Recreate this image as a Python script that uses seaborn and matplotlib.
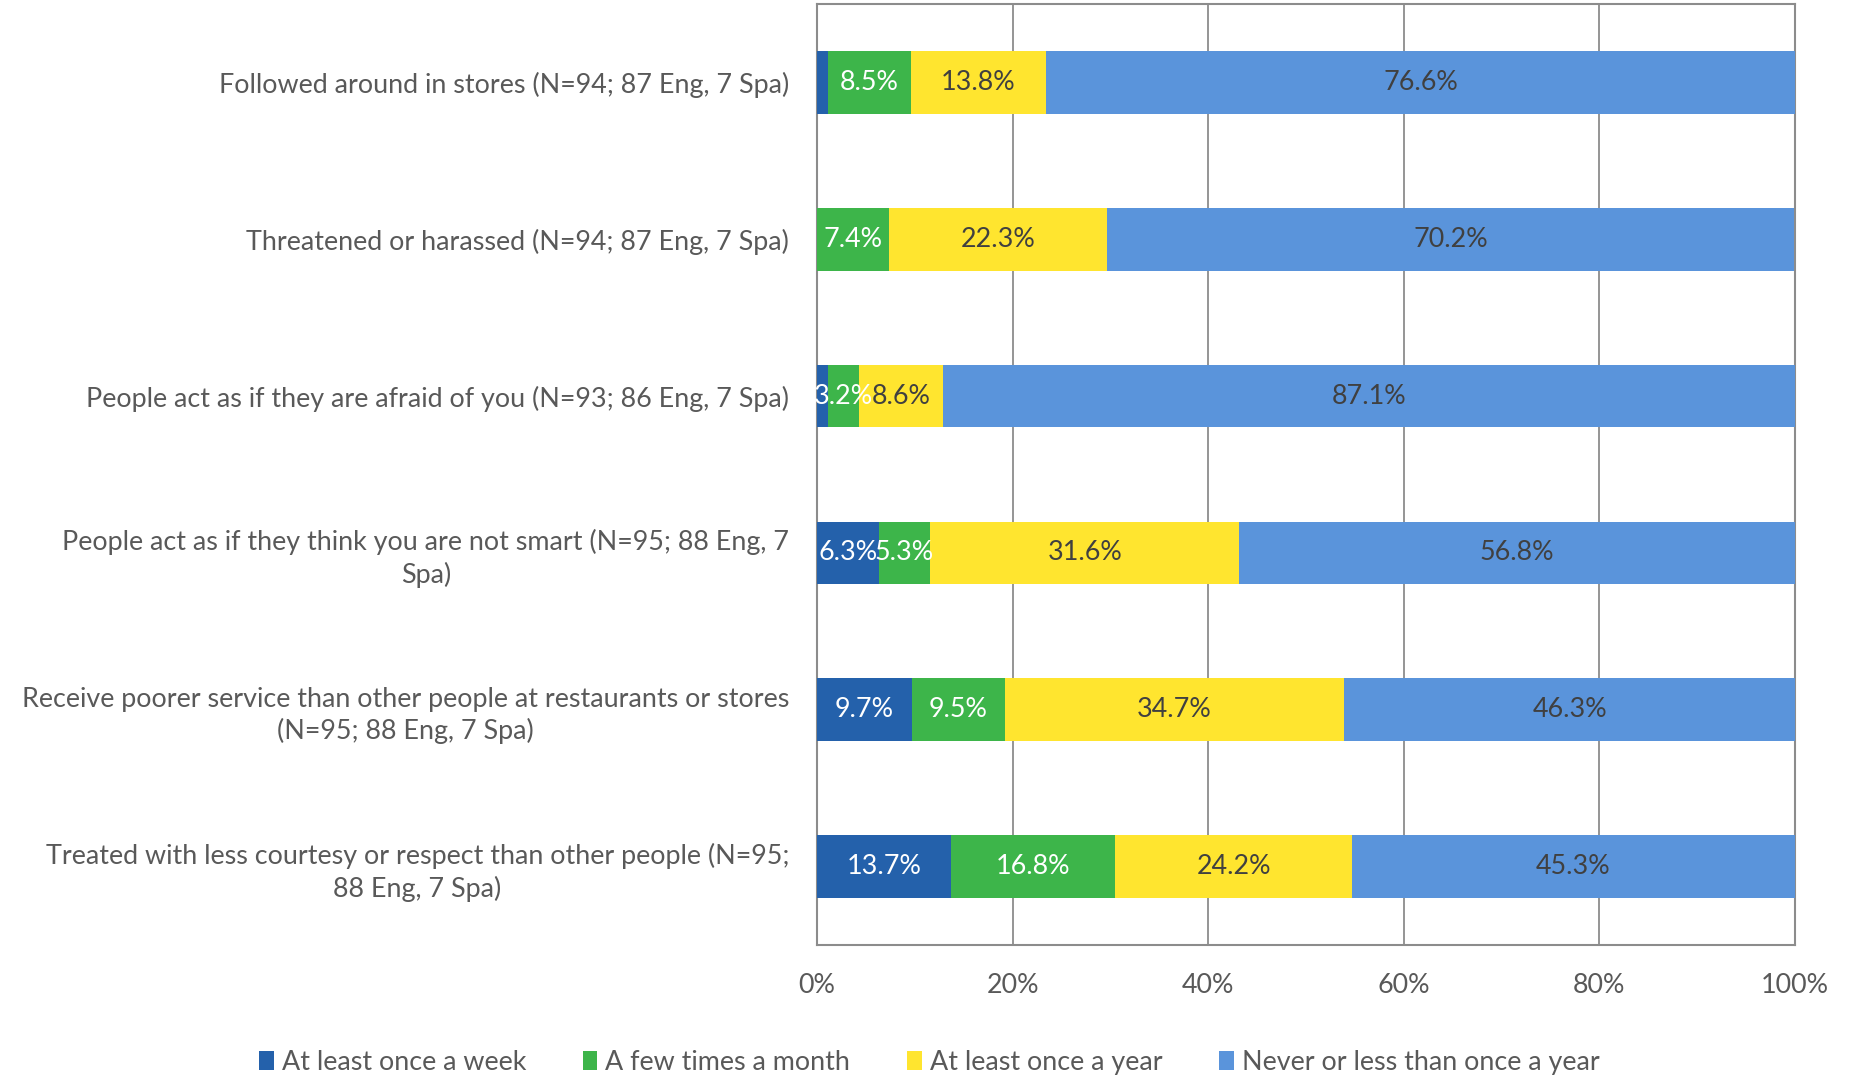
import matplotlib
matplotlib.use('Agg')
import matplotlib.pyplot as plt
import numpy as np
import pandas as pd
import seaborn as sns

from matplotlib.patches import Patch
from matplotlib.ticker import FixedLocator, PercentFormatter


categories = [
    'Followed around in stores (N=94; 87 Eng, 7 Spa)',
    'Threatened or harassed (N=94; 87 Eng, 7 Spa)',
    'People act as if they are afraid of you (N=93; 86 Eng, 7 Spa)',
    'People act as if they think you are not smart (N=95; 88 Eng, 7\nSpa)',
    'Receive poorer service than other people at restaurants or stores\n(N=95; 88 Eng, 7 Spa)',
    'Treated with less courtesy or respect than other people (N=95;\n88 Eng, 7 Spa)',
]
series = ['At least once a week', 'A few times a month', 'At least once a year', 'Never or less than once a year']

week = [1.1, 0.0, 1.1, 6.3, 9.7, 13.7]
month = [8.5, 7.4, 3.2, 5.3, 9.5, 16.8]
year = [13.8, 22.3, 8.6, 31.6, 34.7, 24.2]
never = [76.6, 70.2, 87.1, 56.8, 46.3, 45.3]

colors = ['#2461AB', '#3DB54A', '#FFE52F', '#5A94DB']
label_colors = ['white', 'white', '#404040', '#404040']

sns.set_style('white')
plt.rcParams['font.family'] = ['Lato', 'DejaVu Sans']
text_color = '#595959'
fs = 19.4

df = pd.DataFrame({'category': categories, series[0]: week, series[1]: month,
                   series[2]: year, series[3]: never})
cum = df[series].cumsum(axis=1)

fig = plt.figure(figsize=(18.51, 10.78), dpi=100)
ax = fig.add_axes([0.4414, 0.1234, 0.9697 - 0.4414, 0.9963 - 0.1234])

# stacked bars: draw cumulative totals from the back
for i in range(len(series) - 1, -1, -1):
    sns.barplot(x=cum[series[i]], y=df['category'], color=colors[i], width=0.4,
                orient='h', ax=ax, saturation=1, linewidth=0, zorder=3)

# data labels
for i, s in enumerate(series):
    for j in range(len(df)):
        v = df[s].iloc[j]
        if v < 2:
            continue
        xc = cum[s].iloc[j] - v / 2
        ax.text(xc, j, f'{v:.1f}%', ha='center', va='center', fontsize=fs,
                color=label_colors[i], zorder=5)

ax.set_xlim(0, 100)
ax.set_ylim(len(df) - 0.5, -0.5)
ax.xaxis.set_major_locator(FixedLocator([0, 20, 40, 60, 80, 100]))
ax.xaxis.set_major_formatter(PercentFormatter(decimals=0))
ax.grid(axis='x', color='#8C8C8C', linewidth=1.3, zorder=0)
ax.set_axisbelow(True)
for sp in ax.spines.values():
    sp.set_visible(True)
    sp.set_color('#8C8C8C')
    sp.set_linewidth(1.5)

ax.set_xlabel('')
ax.set_ylabel('')
ax.tick_params(axis='x', length=0, pad=20, labelsize=fs, labelcolor=text_color)
ax.tick_params(axis='y', which='major', length=0, pad=20, labelsize=fs, labelcolor=text_color)
ax.yaxis.set_minor_locator(FixedLocator(np.arange(-0.5, len(df), 1)))
ax.tick_params(axis='y', which='minor', length=7, width=1.5, color='#8C8C8C', direction='out')
for lbl in ax.get_yticklabels():
    lbl.set_multialignment('center')
    lbl.set_linespacing(1.3)

handles = [Patch(facecolor=c, edgecolor='none') for c in colors]
fig.legend(handles, series, loc='lower center', bbox_to_anchor=(0.502, -0.02), ncol=4,
           frameon=False, fontsize=fs, labelcolor=text_color, handlelength=0.55,
           handleheight=0.7, handletextpad=0.3, columnspacing=2.1)

fig.savefig('out.png', dpi=100)
